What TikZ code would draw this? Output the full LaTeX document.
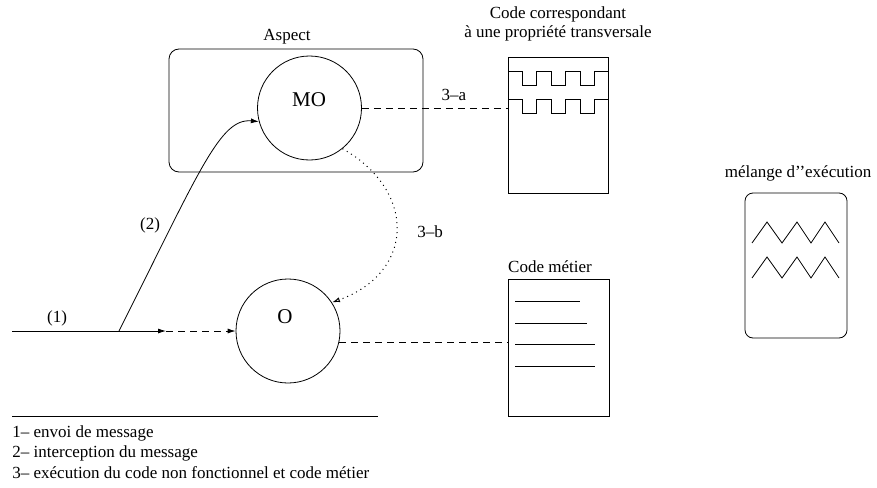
\documentclass[tikz,border=0pt]{standalone}
\usepackage{fontspec}
\setmainfont{Liberation Serif}
\usetikzlibrary{arrows.meta}
\begin{document}
\begin{tikzpicture}[x=1pt,y=-1pt,font=\fontsize{17}{19}\selectfont,line width=0.8pt,
	obj/.style={draw,circle,minimum size=104pt,inner sep=0pt},
	docbox/.style={draw,rectangle,inner sep=0pt},
	longdash/.style={dash pattern=on 7pt off 5pt},
	dots/.style={dash pattern=on 1pt off 4pt,line width=1pt},
	tip/.style={-{Latex[length=8pt,width=5pt]}},
	opentip/.style={-{Latex[open,length=8pt,width=5pt]}}]
	\useasboundingbox (0,0) rectangle (877,487);
	
	\node [draw,rounded corners=10pt,minimum width=254pt,minimum height=123pt] (aspect) at (296,110.5) {};
	\node at (287,37) {Aspect};
	\node [obj] (mo) at (309.5,108) {}; \node [font=\fontsize{21}{24}\selectfont] (motxt) at (309,100) {MO};
	
	\node [docbox,minimum width=100pt,minimum height=136pt] (cct) at (558,125) {};
	\node [align=center] (ccttxt) at (558,24) {Code correspondant\\à une propriété transversale};
	\foreach \y in {71,99}
		\draw (508,\y) -- (522,\y) |- (536,\y+14) |- (551,\y) |- (565,\y+14) |- (580,\y) |- (594,\y+14) |- (608,\y);
	
	\node [obj] (o) at (288,331) {}; \node [font=\fontsize{21}{24}\selectfont] (otxt) at (285,317) {O};
	
	\node [docbox,minimum width=101pt,minimum height=137pt] (cm) at (558.5,347.5) {};
	\node (cmtxt) at (550,267) {Code métier};
	\draw (515,301) -- (580,301); \draw (515,323) -- (587,323);
	\draw (515,344) -- (595,344); \draw (515,366) -- (595,366);
	
	\node [draw,rounded corners=8pt,minimum width=102pt,minimum height=145pt] (mix) at (796,265.5) {};
	\node (mixtxt) at (798,173) {mélange d’’exécution};
	\foreach \y in {0,35} \draw (752,243+\y) -- (767,222+\y) -- (782,243+\y) -- (797,222+\y) -- (811,243+\y) -- (825,222+\y) -- (839,243+\y);
	
	\coordinate (start) at (12,331); \coordinate (split) at (119,331); \coordinate (mid) at (166,331);
	\draw [tip] (start) -- (mid); \node at (57,318) {(1)};
	\draw [longdash,tip] (mid) -- (o.west);
	\draw [tip] (split) .. controls (200,170) and (220,118) .. (mo.195); \node at (150,225) {(2)};
	
	\draw [longdash] (mo.east) -- (mo.east -| cct.west); \node at (454,95) {3--a};
	\draw [dots,opentip] (mo.-51) .. controls (416,190) and (416,272) .. (o.33); \node at (430,232) {3--b};
	\draw [longdash] (o.-13) -- (o.-13 -| cm.west);
	
	\draw (12,416) -- (378,416);
	\node [anchor=west,inner sep=0pt] (l1) at (12,433) {1-- envoi de message};
	\node [anchor=west,inner sep=0pt] (l2) at (12,453) {2-- interception du message};
	\node [anchor=west,inner sep=0pt] (l3) at (12,473) {3-- exécution du code non fonctionnel et code métier};
\end{tikzpicture}
\end{document}
